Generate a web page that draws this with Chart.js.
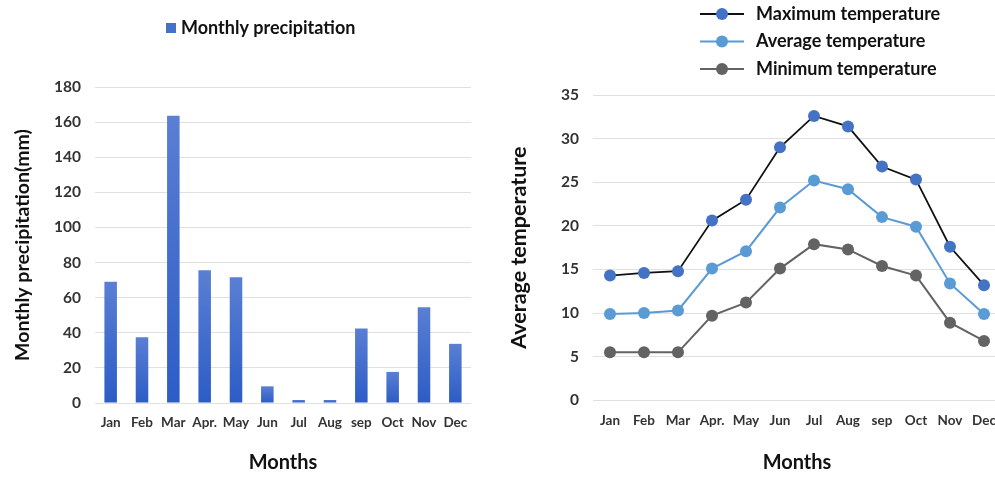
<!DOCTYPE html>
<html>
<head>
<meta charset="utf-8">
<script src="https://cdn.jsdelivr.net/npm/chart.js@4/dist/chart.umd.min.js"></script>
<style>
  html, body { margin: 0; padding: 0; background: #fff; }
  #wrap { position: relative; width: 995px; height: 477px; overflow: hidden; }
  #rain { position: absolute; left: 0; top: 0; }
  #temp { position: absolute; left: 497px; top: 0; }
</style>
</head>
<body>
<div id="wrap">
  <canvas id="rain" width="497" height="477"></canvas>
  <canvas id="temp" width="513" height="477"></canvas>
</div>
<script>
// Month labels shared by both panels
const months = ['Jan', 'Feb', 'Mar', 'Apr.', 'May', 'Jun', 'Jul', 'Aug', 'sep', 'Oct', 'Nov', 'Dec'];

// Monthly precipitation (mm)
const precipitation = [69, 37.5, 163.6, 75.6, 71.6, 9.5, 1.7, 1.7, 42.5, 17.7, 54.6, 33.7];

// Temperatures (°C)
const tempMax = [14.3, 14.6, 14.8, 20.6, 23.0, 29.0, 32.6, 31.4, 26.8, 25.3, 17.6, 13.2];
const tempAvg = [9.9, 10.0, 10.3, 15.1, 17.1, 22.1, 25.2, 24.2, 21.0, 19.9, 13.4, 9.9];
const tempMin = [5.5, 5.5, 5.5, 9.7, 11.2, 15.1, 17.9, 17.3, 15.4, 14.3, 8.9, 6.8];

// Axis ranges
const precipAxis = { max: 180, step: 20 };
const tempAxis = { max: 35, step: 5 };

const FONT = 'Lato, "Open Sans", sans-serif';
const TICK_COLOR = '#333333';
const TITLE_COLOR = '#111111';
const GRID_COLOR = '#e0e0e0';

// Small legend drawn as a fixed block (box swatch or line-with-marker swatch)
const legendBlock = {
  id: 'legendBlock',
  afterDraw(chart, args, opts) {
    const ctx = chart.ctx;
    ctx.save();
    ctx.font = 'bold ' + opts.size + 'px ' + FONT;
    ctx.textBaseline = 'middle';
    ctx.textAlign = 'left';
    chart.data.datasets.forEach((ds, i) => {
      const y = opts.y + i * (opts.rowGap || 0);
      if (opts.kind === 'box') {
        ctx.fillStyle = ds.swatch;
        ctx.fillRect(opts.x, y - 5, 10, 10);
        ctx.fillStyle = TITLE_COLOR;
        ctx.fillText(ds.label, opts.x + 15, y);
      } else {
        ctx.strokeStyle = ds.borderColor;
        ctx.lineWidth = ds.borderWidth;
        ctx.beginPath();
        ctx.moveTo(opts.x, y);
        ctx.lineTo(opts.x + 44, y);
        ctx.stroke();
        ctx.fillStyle = ds.pointBackgroundColor;
        ctx.beginPath();
        ctx.arc(opts.x + 22, y, 6, 0, Math.PI * 2);
        ctx.fill();
        ctx.fillStyle = TITLE_COLOR;
        ctx.fillText(ds.label, opts.x + 56, y);
      }
    });
    ctx.restore();
  }
};

function yTicks(step) {
  return {
    stepSize: step,
    padding: 14,
    color: TICK_COLOR,
    font: { family: FONT, size: 15.5, weight: 'bold' }
  };
}
function xTicks() {
  return {
    padding: 12,
    color: TICK_COLOR,
    maxRotation: 0,
    autoSkip: false,
    font: { family: FONT, size: 13.5, weight: 'bold' }
  };
}
function monthsTitle() {
  return { display: true, text: 'Months', color: TITLE_COLOR, padding: { top: 2, bottom: 2 },
           font: { family: FONT, size: 20, weight: 'bold' } };
}

// Bars shaded lighter at the top, darker at the base
function barGradient(c) {
  const chart = c.chart;
  if (!chart.chartArea || c.type !== 'data') return '#4472c4';
  const y = chart.scales.y;
  const top = y.getPixelForValue(c.parsed.y);
  const base = y.getPixelForValue(0);
  const g = chart.ctx.createLinearGradient(0, top, 0, base);
  g.addColorStop(0, '#5a7fd4');
  g.addColorStop(1, '#2c5cc6');
  return g;
}

new Chart(document.getElementById('rain'), {
  type: 'bar',
  data: {
    labels: months,
    datasets: [{
      label: 'Monthly precipitation',
      data: precipitation,
      swatch: '#4472c4',
      backgroundColor: barGradient,
      borderWidth: 0,
      barPercentage: 0.4,
      categoryPercentage: 1
    }]
  },
  options: {
    responsive: false,
    animation: false,
    layout: { padding: { top: 87, right: 26, bottom: 0, left: 0 } },
    plugins: {
      legend: { display: false },
      tooltip: { enabled: false },
      legendBlock: { kind: 'box', x: 166, y: 28, size: 18 }
    },
    scales: {
      x: {
        grid: { display: false, drawTicks: false },
        border: { display: false },
        ticks: xTicks(),
        title: monthsTitle(),
        afterFit(s) { s.height = 74; }
      },
      y: {
        min: 0, max: precipAxis.max,
        grid: { color: GRID_COLOR, drawTicks: false },
        border: { display: false },
        ticks: yTicks(precipAxis.step),
        title: { display: true, text: 'Monthly precipitation(mm)', color: TITLE_COLOR, padding: { top: 11, bottom: 0 },
                 font: { family: FONT, size: 19.5, weight: 'bold' } },
        afterFit(s) { s.width = 95; }
      }
    }
  },
  plugins: [legendBlock]
});

function lineSet(label, data, line, marker, width) {
  return {
    label: label,
    data: data,
    borderColor: line,
    borderWidth: width,
    pointBackgroundColor: marker,
    pointBorderColor: marker,
    pointRadius: 6,
    pointBorderWidth: 0,
    tension: 0
  };
}

new Chart(document.getElementById('temp'), {
  type: 'line',
  data: {
    labels: months,
    datasets: [
      lineSet('Maximum temperature', tempMax, '#111111', '#4472c4', 1.8),
      lineSet('Average temperature', tempAvg, '#5b9bd5', '#5b9bd5', 2),
      lineSet('Minimum temperature', tempMin, '#636363', '#636363', 2)
    ]
  },
  options: {
    responsive: false,
    animation: false,
    layout: { padding: { top: 95, right: 9, bottom: 0, left: 0 } },
    plugins: {
      legend: { display: false },
      tooltip: { enabled: false },
      legendBlock: { kind: 'line', x: 203, y: 14, rowGap: 27.5, size: 18 }
    },
    scales: {
      x: {
        offset: true,
        grid: { display: false, drawTicks: false },
        border: { display: false },
        ticks: xTicks(),
        title: monthsTitle(),
        afterFit(s) { s.height = 76.7; }
      },
      y: {
        min: 0, max: tempAxis.max,
        grid: { color: GRID_COLOR, drawTicks: false },
        border: { display: false },
        ticks: yTicks(tempAxis.step),
        title: { display: true, text: 'Average temperature', color: TITLE_COLOR, padding: { top: 9, bottom: 0 },
                 font: { family: FONT, size: 21.5, weight: 'bold' } },
        afterFit(s) { s.width = 96; }
      }
    }
  },
  plugins: [legendBlock]
});
</script>
</body>
</html>
